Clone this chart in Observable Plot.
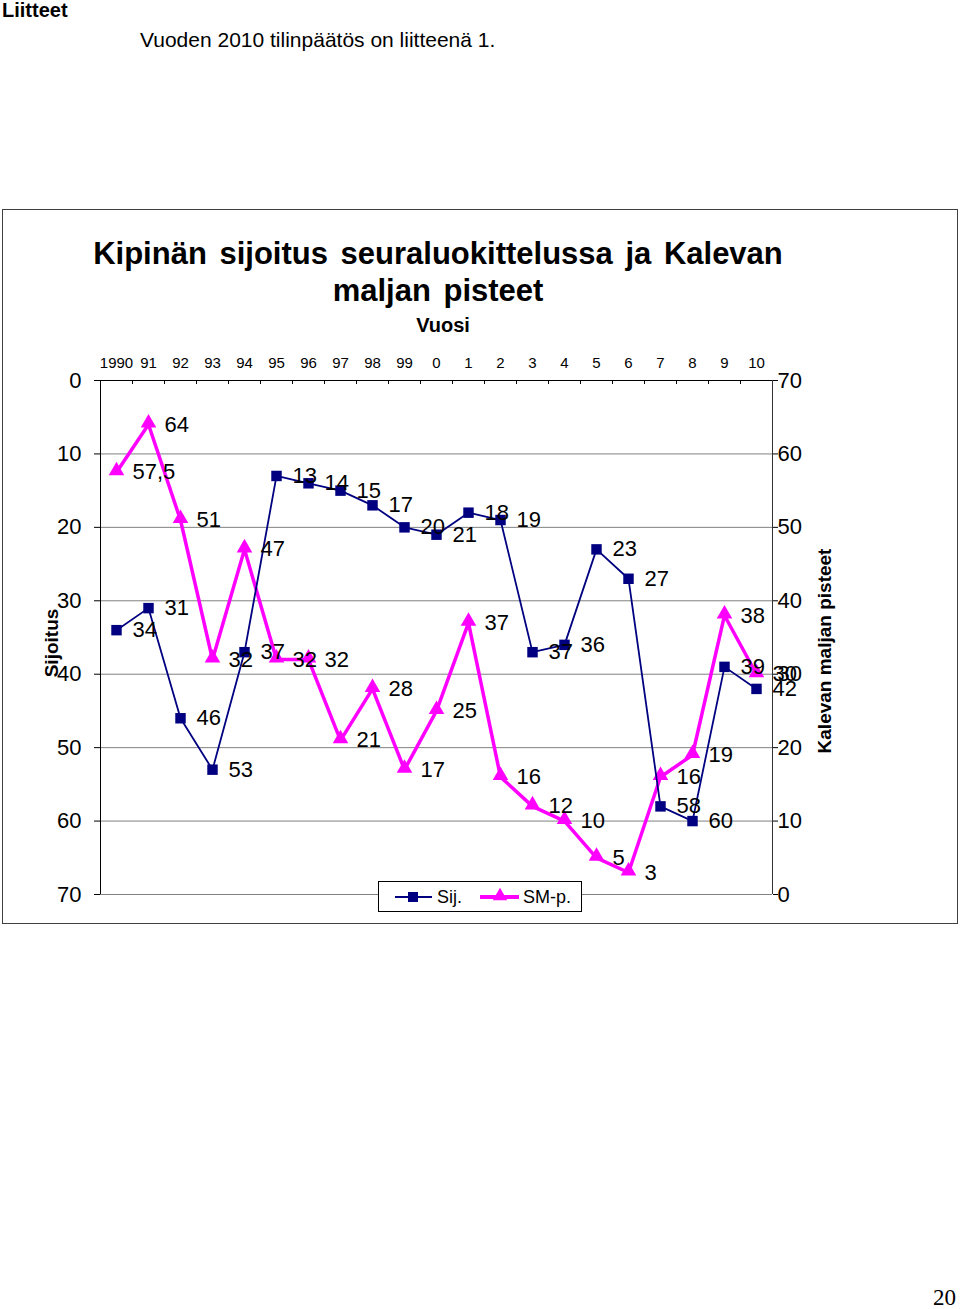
<!DOCTYPE html>
<html><head><meta charset="utf-8">
<script src="https://cdn.jsdelivr.net/npm/d3@7"></script>
<script src="https://cdn.jsdelivr.net/npm/@observablehq/plot@0.6"></script>
<style>
html,body{margin:0;padding:0;background:#fff;}
#page{position:relative;width:960px;height:1309px;overflow:hidden;font-family:"Liberation Sans",Arial,sans-serif;}
#page > svg{position:absolute;left:0;top:0;}
</style></head><body><div id="page"></div>
<script>
// ---- data ----
const years = ["1990","91","92","93","94","95","96","97","98","99","0","1","2","3","4","5","6","7","8","9","10"];
const sijoitus = [34,31,46,53,37,13,14,15,17,20,21,18,19,37,36,23,27,58,60,39,42];
const smPisteet = [57.5,64,51,32,47,32,32,21,28,17,25,37,16,12,10,5,3,16,19,38,30];
const yTicks = [0,10,20,30,40,50,60,70];
const seriesNames = ["Sij.","SM-p."];
const titleLines = ["Kipinän sijoitus seuraluokittelussa ja Kalevan","maljan pisteet"];
const xTitle = "Vuosi";
const yLeftTitle = "Sijoitus";
const yRightTitle = "Kalevan maljan pisteet";
const pageHeading = "Liitteet";
const pageText = "Vuoden 2010 tilinpäätös on liitteenä 1.";
const pageNumber = "20";

const NAVY = "#000080", MAGENTA = "#FF00FF";
const PMAX = 70;
const table = years.map((y, i) => ({i, year: y, sij: sijoitus[i], sm: smPisteet[i]}));
const fmt = v => String(v).replace(".", ",");

const chart = Plot.plot({
  width: 960, height: 930,
  marginTop: 380, marginBottom: 36, marginLeft: 100, marginRight: 188,
  style: {fontFamily: "Liberation Sans, Arial, sans-serif", background: "transparent", color: "#000", overflow: "visible"},
  x: {type: "linear", domain: [-0.5, years.length - 0.5]},
  y: {domain: [0, 70], reverse: true},
  marks: [
    Plot.ruleY(yTicks.slice(1), {stroke: "#808080", strokeWidth: 1}),
    Plot.ruleY([0], {stroke: "#000", strokeWidth: 1}),
    Plot.ruleX([-0.5], {stroke: "#000", strokeWidth: 1}),
    Plot.ruleX([years.length - 0.5], {stroke: "#333", strokeWidth: 1}),
    Plot.ruleX(d3.range(1, years.length).map(i => i - 0.5), {y1: 0, y2: 0.55, stroke: "#000"}),
    Plot.axisX(table.map(d => d.i), {anchor: "top", tickSize: 0, tickPadding: 13, tickFormat: i => years[i], fontSize: 15, label: null}),
    Plot.axisY(yTicks, {anchor: "left", tickSize: 6, tickPadding: 13, fontSize: 22, label: null}),
    Plot.axisY(yTicks, {anchor: "right", tickSize: 5, tickPadding: 0, tickFormat: d => PMAX - d, fontSize: 22, label: null}),
    Plot.line(table, {x: "i", y: d => PMAX - d.sm, stroke: MAGENTA, strokeWidth: 3.5}),
    Plot.dot(table, {x: "i", y: d => PMAX - d.sm, symbol: "triangle", fill: MAGENTA, r: 5.8, dy: -1.5}),
    Plot.line(table, {x: "i", y: "sij", stroke: NAVY, strokeWidth: 1.8}),
    Plot.dot(table, {x: "i", y: "sij", symbol: "square", fill: NAVY, r: 5.9}),
    Plot.text(table, {x: "i", y: d => PMAX - d.sm, text: d => fmt(d.sm), dx: 16, textAnchor: "start", fontSize: 22, fill: "#000"}),
    Plot.text(table, {x: "i", y: "sij", text: d => fmt(d.sij), dx: 16, textAnchor: "start", fontSize: 22, fill: "#000"})
  ]
});

const page = d3.select("#page");
// chart frame (under the plot)
const under = page.append("svg").attr("width", 960).attr("height", 1309);
under.append("rect").attr("x", 2.5).attr("y", 209.5).attr("width", 955).attr("height", 714)
  .attr("fill", "#fff").attr("stroke", "#404040").attr("stroke-width", 1);

page.node().appendChild(chart);

const ov = page.append("svg").attr("width", 960).attr("height", 1309)
  .style("font-family", "Liberation Sans, Arial, sans-serif");

ov.append("text").attr("x", 2).attr("y", 17).attr("font-size", 20).attr("font-weight", "bold").text(pageHeading);
ov.append("text").attr("x", 140).attr("y", 46.5).attr("font-size", 21).text(pageText);
ov.append("text").attr("x", 956).attr("y", 1305).attr("text-anchor", "end")
  .attr("font-family", "Liberation Serif, Times New Roman, serif").attr("font-size", 23).text(pageNumber);

titleLines.forEach((t, k) => {
  ov.append("text").attr("x", 438).attr("y", 264 + 37 * k).attr("text-anchor", "middle")
    .attr("font-size", 31).attr("font-weight", "bold").style("word-spacing", "4px").text(t);
});
ov.append("text").attr("x", 443).attr("y", 332).attr("text-anchor", "middle")
  .attr("font-size", 20).attr("font-weight", "bold").text(xTitle);
ov.append("text").attr("transform", "translate(58,643) rotate(-90)").attr("text-anchor", "middle")
  .attr("font-size", 19).attr("font-weight", "bold").text(yLeftTitle);
ov.append("text").attr("transform", "translate(831,651) rotate(-90)").attr("text-anchor", "middle")
  .attr("font-size", 19).attr("font-weight", "bold").text(yRightTitle);

// legend
const lg = ov.append("g");
lg.append("rect").attr("x", 378.5).attr("y", 881.5).attr("width", 203).attr("height", 30)
  .attr("fill", "#fff").attr("stroke", "#000").attr("stroke-width", 1);
lg.append("line").attr("x1", 395).attr("x2", 432).attr("y1", 897).attr("y2", 897).attr("stroke", NAVY).attr("stroke-width", 2);
lg.append("rect").attr("x", 408).attr("y", 892).attr("width", 10).attr("height", 10).attr("fill", NAVY);
lg.append("text").attr("x", 437).attr("y", 903).attr("font-size", 18).text(seriesNames[0]);
lg.append("line").attr("x1", 480).attr("x2", 519).attr("y1", 897).attr("y2", 897).attr("stroke", MAGENTA).attr("stroke-width", 4);
lg.append("path").attr("d", d3.symbol(d3.symbolTriangle, 90)()).attr("transform", "translate(500,896)").attr("fill", MAGENTA);
lg.append("text").attr("x", 523).attr("y", 903).attr("font-size", 18).text(seriesNames[1]);
</script>
</body></html>
